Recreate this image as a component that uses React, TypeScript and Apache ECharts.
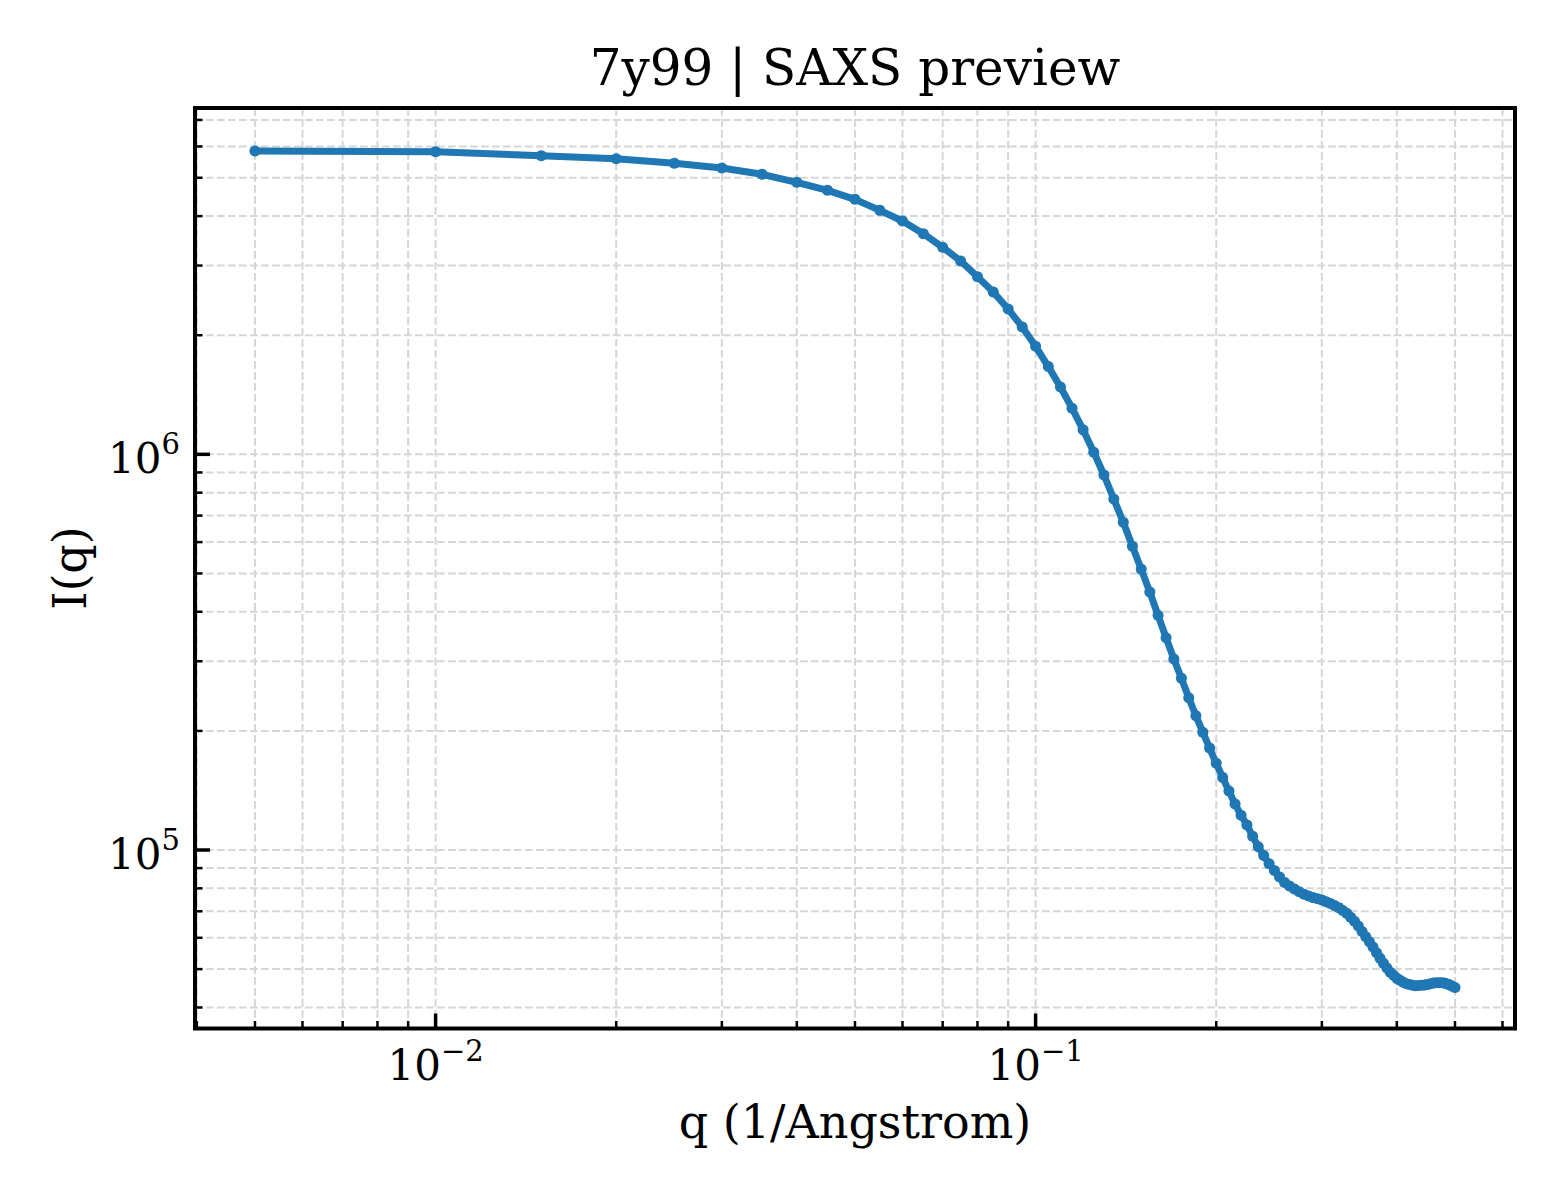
import React, { useEffect, useRef } from "react";
import * as echarts from "echarts";

const Q = [
  0.005, 0.01, 0.015, 0.02, 0.025, 0.03, 0.035, 0.04, 0.045, 0.05,
  0.055, 0.06, 0.065, 0.07, 0.075, 0.08, 0.085, 0.09, 0.095, 0.1,
  0.105, 0.11, 0.115, 0.12, 0.125, 0.13, 0.135, 0.14, 0.145, 0.15,
  0.155, 0.16, 0.165, 0.17, 0.175, 0.18, 0.185, 0.19, 0.195, 0.2,
  0.205, 0.21, 0.215, 0.22, 0.225, 0.23, 0.235, 0.24, 0.245, 0.25,
  0.255, 0.26, 0.265, 0.27, 0.275, 0.28, 0.285, 0.29, 0.295, 0.3,
  0.305, 0.31, 0.315, 0.32, 0.325, 0.33, 0.335, 0.34, 0.345, 0.35,
  0.355, 0.36, 0.365, 0.37, 0.375, 0.38, 0.385, 0.39, 0.395, 0.4,
  0.405, 0.41, 0.415, 0.42, 0.425, 0.43, 0.435, 0.44, 0.445, 0.45,
  0.455, 0.46, 0.465, 0.47, 0.475, 0.48, 0.485, 0.49, 0.495, 0.5,
];

const INTENSITY = [
  5843000, 5819000, 5685000, 5585000, 5438000, 5291000, 5101000, 4869000, 4648000, 4410000,
  4136000, 3888000, 3611000, 3336000, 3080000, 2811000, 2572000, 2329000, 2098000, 1875000,
  1667000, 1480000, 1308000, 1153000, 1012000, 886800, 770900, 673300, 585500, 512200,
  448700, 391800, 344000, 303900, 271600, 242600, 218500, 198300, 181000, 165600,
  152600, 140900, 130700, 122400, 115700, 108300, 101900, 96800, 92330, 88800,
  85500, 82770, 81100, 79720, 78440, 77310, 76560, 75800, 75270, 74750,
  73970, 73240, 72390, 71510, 70350, 69180, 67590, 66070, 64270, 62210,
  60380, 58610, 56840, 55020, 53250, 51720, 50320, 49090, 48240, 47380,
  46860, 46320, 45940, 45700, 45540, 45410, 45460, 45540, 45590, 45750,
  45940, 46130, 46210, 46210, 46210, 46130, 45860, 45620, 45280, 44940,
];

const X_MAJOR = [0.01, 0.1];
const X_MINOR = [
  0.004, 0.005, 0.006, 0.007, 0.008, 0.009,
  0.02, 0.03, 0.04, 0.05, 0.06, 0.07, 0.08, 0.09,
  0.2, 0.3, 0.4, 0.5, 0.6,
];
const Y_MAJOR = [100000, 1000000];
const Y_MINOR = [
  40000, 50000, 60000, 70000, 80000, 90000,
  200000, 300000, 400000, 500000, 600000, 700000, 800000, 900000,
  2000000, 3000000, 4000000, 5000000, 6000000, 7000000,
];
const X_RANGE = [0.003972, 0.6295];
const Y_RANGE = [35390, 7504000];

const TITLE = "7y99 | SAXS preview";
const X_NAME = "q (1/Angstrom)";
const Y_NAME = "I(q)";

const FONT = "DejaVu Serif";
const BLUE = "#1f77b4";
const GRID_STYLE = { stroke: "#d6d6d6", lineWidth: 2, lineDash: [7.7, 3.3] };

function powLabel(v: number): string {
  const l = Math.log10(v);
  const e = Math.round(l);
  if (Math.abs(l - e) > 1e-6) return "";
  const exp = (e < 0 ? "\u2212" : "") + String(Math.abs(e));
  return `{b|10}{s|${exp}}`;
}

const RICH = {
  b: { fontSize: 42, fontFamily: FONT, color: "#000", lineHeight: 50, verticalAlign: "bottom" },
  s: { fontSize: 29, fontFamily: FONT, color: "#000", lineHeight: 30, verticalAlign: "top" },
};

export default function App() {
  const ref = useRef<HTMLDivElement>(null);

  useEffect(() => {
    if (!ref.current) return;
    const chart = echarts.init(ref.current, undefined, { renderer: "svg" });
    const data = Q.map((q, i) => [q, INTENSITY[i]]);

    const xGridData = [...X_MINOR, ...X_MAJOR].map((v) => [v, Y_RANGE[0]]);
    const yGridData = [...Y_MINOR, ...Y_MAJOR].map((v) => [X_RANGE[0], v]);
    const xTickData = [
      ...X_MAJOR.map((v) => [v, Y_RANGE[0], 15, 3.5]),
      ...X_MINOR.map((v) => [v, Y_RANGE[0], 7.5, 2.5]),
    ];
    const yTickData = [
      ...Y_MAJOR.map((v) => [X_RANGE[0], v, 15, 3.5]),
      ...Y_MINOR.map((v) => [X_RANGE[0], v, 7.5, 2.5]),
    ];

    const option: any = {
      animation: false,
      backgroundColor: "#fff",
      grid: {
        left: 195,
        top: 108,
        right: 45,
        bottom: 171.5,
        show: true,
        borderColor: "#000",
        borderWidth: 4,
        backgroundColor: "transparent",
        z: 5,
      },
      xAxis: {
        type: "log",
        logBase: 10,
        min: X_RANGE[0],
        max: X_RANGE[1],
        axisLine: { show: false },
        axisTick: { show: false },
        splitLine: { show: false },
        minorTick: { show: false },
        axisLabel: {
          margin: 8,
          formatter: powLabel,
          rich: RICH,
          showMinLabel: false,
          showMaxLabel: false,
        },
      },
      yAxis: {
        type: "log",
        logBase: 10,
        min: Y_RANGE[0],
        max: Y_RANGE[1],
        axisLine: { show: false },
        axisTick: { show: false },
        splitLine: { show: false },
        minorTick: { show: false },
        axisLabel: {
          margin: 15,
          formatter: powLabel,
          rich: RICH,
          showMinLabel: false,
          showMaxLabel: false,
        },
      },
      graphic: [
        {
          type: "text",
          x: 855,
          y: 68,
          silent: true,
          style: {
            text: TITLE,
            font: `50px "${FONT}"`,
            fill: "#000",
            align: "center",
            verticalAlign: "middle",
            textAlign: "center",
            textVerticalAlign: "middle",
          },
        },
        {
          type: "text",
          x: 855,
          y: 1122,
          silent: true,
          style: {
            text: X_NAME,
            font: `46px "${FONT}"`,
            fill: "#000",
            align: "center",
            verticalAlign: "middle",
            textAlign: "center",
            textVerticalAlign: "middle",
          },
        },
        {
          type: "text",
          x: 70,
          y: 568,
          rotation: Math.PI / 2,
          silent: true,
          style: {
            text: Y_NAME,
            font: `46px "${FONT}"`,
            fill: "#000",
            align: "center",
            verticalAlign: "middle",
            textAlign: "center",
            textVerticalAlign: "middle",
          },
        },
      ],
      series: [
        {
          type: "custom",
          silent: true,
          z: 1,
          data: xGridData,
          renderItem: (params: any, api: any) => {
            const p = api.coord([api.value(0), api.value(1)]);
            const cs = params.coordSys;
            return {
              type: "line",
              shape: { x1: p[0], y1: cs.y, x2: p[0], y2: cs.y + cs.height },
              style: GRID_STYLE,
            };
          },
        },
        {
          type: "custom",
          silent: true,
          z: 1,
          data: yGridData,
          renderItem: (params: any, api: any) => {
            const p = api.coord([api.value(0), api.value(1)]);
            const cs = params.coordSys;
            return {
              type: "line",
              shape: { x1: cs.x, y1: p[1], x2: cs.x + cs.width, y2: p[1] },
              style: GRID_STYLE,
            };
          },
        },
        {
          type: "line",
          data,
          z: 3,
          color: BLUE,
          lineStyle: { color: BLUE, width: 7 },
          itemStyle: { color: BLUE },
          symbol: "circle",
          symbolSize: 11,
          showSymbol: true,
          showAllSymbol: true,
          smooth: false,
          silent: true,
        },
        {
          type: "custom",
          silent: true,
          z: 6,
          data: xTickData,
          renderItem: (params: any, api: any) => {
            const p = api.coord([api.value(0), api.value(1)]);
            const len = api.value(2);
            return {
              type: "line",
              shape: { x1: p[0], y1: p[1], x2: p[0], y2: p[1] - len },
              style: { stroke: "#000", lineWidth: api.value(3) },
            };
          },
        },
        {
          type: "custom",
          silent: true,
          z: 6,
          data: yTickData,
          renderItem: (params: any, api: any) => {
            const p = api.coord([api.value(0), api.value(1)]);
            const len = api.value(2);
            return {
              type: "line",
              shape: { x1: p[0], y1: p[1], x2: p[0] + len, y2: p[1] },
              style: { stroke: "#000", lineWidth: api.value(3) },
            };
          },
        },
      ],
    };

    chart.setOption(option);
    return () => chart.dispose();
  }, []);

  return (
    <div
      ref={ref}
      style={{ position: "absolute", left: 0, top: 0, width: 1560, height: 1200, background: "#fff" }}
    />
  );
}
